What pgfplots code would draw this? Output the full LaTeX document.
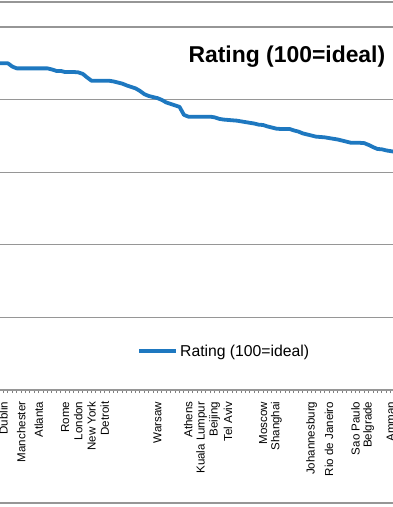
\documentclass[border=0pt]{standalone}
\usepackage{fontspec}
\setmainfont{Liberation Sans}
\usepackage{pgfplots}
\pgfplotsset{compat=1.18}
\definecolor{lineblue}{RGB}{30,120,192}
\definecolor{gridgray}{RGB}{150,150,150}
\begin{document}
\begin{tikzpicture}
\path[use as bounding box] (0,-117bp) rectangle (393bp,390bp);
\clip (0,-117bp) rectangle (393bp,390bp);
\fill[white] (0,-117bp) rectangle (393bp,390bp);
\draw[gridgray, line width=1.2bp] (0,388bp) -- (393bp,388bp);
\draw[gridgray, line width=1.2bp] (0,-113bp) -- (393bp,-113bp);
\begin{axis}[
  at={(0,0)}, anchor=south west,
  scale only axis, width=393bp, height=363bp,
  xmin=-0.8, xmax=88.52, ymin=0, ymax=100,
  axis lines*=left,
  y axis line style={draw=none},
  x axis line style={gridgray, line width=1.2bp},
  ytick={20,40,60,80,100}, yticklabels={}, ytick style={draw=none},
  ymajorgrids, major grid style={gridgray, line width=1.2bp},
  xtick={0,4,8,14,17,20,23,35,42,45,48,51,59,62,70,74,80,83,88},
  xticklabels={Dublin,Manchester,Atlanta,Rome,London,New York,Detroit,Warsaw,Athens,Kuala Lumpur,Beijing,Tel Aviv,Moscow,Shanghai,Johannesburg,Rio de Janeiro,Sao Paulo,Belgrade,Amman},
  minor xtick={-1,...,89},
  tick align=outside, major tick length=3bp, minor tick length=3bp,
  x tick style={gray, line width=0.9bp},
  xticklabel style={rotate=90, anchor=east, font=\fontsize{11.6}{13}\selectfont, inner sep=0pt},
  xticklabel shift=8.5bp,
  legend style={at={(axis description cs:0.349,0.107)}, anchor=west, draw=none, fill=none, inner sep=0pt, font=\fontsize{15.8}{18}\selectfont},
  legend image code/.code={\draw[#1] (0bp,0bp) -- (37bp,0bp);},
]
\addplot[lineblue, line width=3.8bp, line join=round] coordinates {
(-1,90.0) (0,90.0) (1,90.0) (2,89.1) (3,88.6) (4,88.6) (5,88.6) (6,88.6) (7,88.6) (8,88.6) (9,88.6) (10,88.6)
(11,88.3) (12,87.9) (13,87.9) (14,87.6) (15,87.6) (16,87.6) (17,87.5) (18,87.1) (19,86.1) (20,85.2)
(21,85.2) (22,85.2) (23,85.2) (24,85.2) (25,85.0) (26,84.7) (27,84.4) (28,83.9) (29,83.5) (30,83.1)
(31,82.4) (32,81.5) (33,81.0) (34,80.7) (35,80.4) (36,79.9) (37,79.2) (38,78.8) (39,78.4) (40,78.0)
(41,75.8) (42,75.3) (43,75.3) (44,75.3) (45,75.3) (46,75.3) (47,75.3) (48,75.1) (49,74.7) (50,74.5)
(51,74.4) (52,74.3) (53,74.2) (54,74.0) (55,73.8) (56,73.6) (57,73.4) (58,73.1) (59,73.0) (60,72.6)
(61,72.3) (62,72.0) (63,71.9) (64,71.9) (65,71.9) (66,71.5) (67,71.2) (68,70.7) (69,70.4) (70,70.1)
(71,69.8) (72,69.7) (73,69.6) (74,69.4) (75,69.2) (76,69.0) (77,68.7) (78,68.4) (79,68.1) (80,68.1)
(81,68.1) (82,68.0) (83,67.5) (84,66.9) (85,66.4) (86,66.3) (87,66.0) (88,65.8) (89,65.6)
};
\addlegendentry{Rating (100=ideal)}
\node[font=\bfseries\fontsize{23}{27}\selectfont] at (axis description cs:0.730,0.917) {Rating (100=ideal)};
\end{axis}
\end{tikzpicture}
\end{document}
